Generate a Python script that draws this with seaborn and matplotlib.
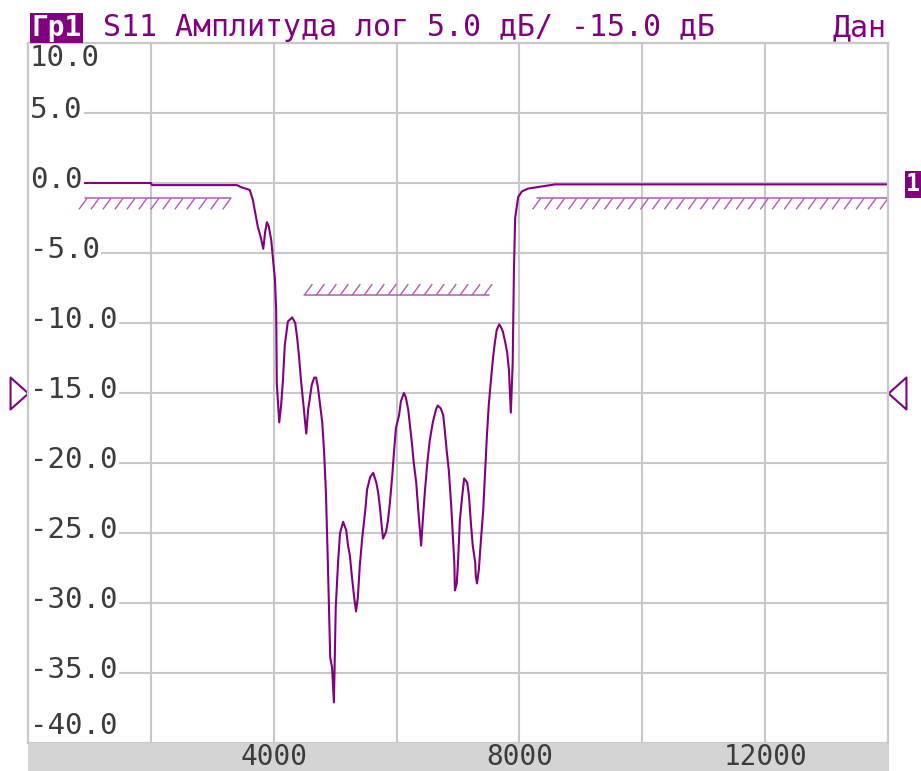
import numpy as np
import pandas as pd
import matplotlib
matplotlib.use("Agg")
import matplotlib.pyplot as plt
from matplotlib.path import Path
from matplotlib.collections import LineCollection
from matplotlib.patches import Rectangle
import matplotlib.transforms as mtransforms
import seaborn as sns

# ---------------- data ----------------
freq_mhz = [0, 2000, 2020, 3400, 3470, 3610, 3660, 3710, 3740, 3790, 3830, 3860, 3890, 3920,
            3960, 3990, 4020, 4040, 4050, 4090, 4120, 4150, 4180, 4230, 4300, 4350, 4380, 4410,
            4440, 4480, 4510, 4530, 4560, 4590, 4620, 4660, 4690, 4720, 4750, 4790, 4820, 4850,
            4880, 4920, 4950, 4980, 5010, 5050, 5080, 5130, 5180, 5210, 5240, 5270, 5310, 5340,
            5370, 5400, 5440, 5490, 5520, 5570, 5620, 5670, 5700, 5730, 5760, 5780, 5830, 5860,
            5890, 5930, 5960, 5990, 6040, 6070, 6120, 6150, 6190, 6220, 6250, 6280, 6320, 6350,
            6380, 6400, 6430, 6460, 6500, 6540, 6590, 6640, 6670, 6720, 6760, 6790, 6820, 6850,
            6890, 6920, 6940, 6950, 6980, 7000, 7030, 7070, 7100, 7150, 7180, 7210, 7240, 7280,
            7290, 7310, 7340, 7370, 7410, 7440, 7470, 7500, 7540, 7570, 7600, 7630, 7670, 7700,
            7730, 7770, 7800, 7830, 7850, 7860, 7890, 7910, 7930, 7980, 8040, 8140, 8290, 8580,
            14000]
s11_db = [0.0, 0.0, -0.15, -0.15, -0.3, -0.5, -1.2, -2.4, -3.1, -3.9, -4.7, -3.5, -2.8, -3.1,
          -4.1, -5.5, -6.9, -9.1, -14.3, -17.1, -15.9, -14.1, -11.6, -9.9, -9.6, -10.0, -11.0, -12.3,
          -13.9, -15.7, -17.1, -17.9, -16.2, -15.3, -14.4, -13.9, -13.9, -14.6, -15.7, -17.1, -19.2, -22.1,
          -26.9, -33.9, -34.6, -37.1, -30.3, -26.9, -25.0, -24.2, -24.8, -25.9, -26.6, -28.0, -29.6, -30.6,
          -29.6, -27.4, -25.4, -23.4, -21.9, -21.0, -20.7, -21.4, -22.1, -23.2, -24.6, -25.4, -24.9, -24.1,
          -22.9, -20.9, -19.1, -17.5, -16.6, -15.6, -15.0, -15.3, -16.2, -17.4, -18.6, -20.0, -21.4, -23.2,
          -24.8, -25.9, -23.9, -22.1, -20.0, -18.4, -17.1, -16.2, -15.9, -16.1, -16.6, -17.9, -19.3, -20.5,
          -23.1, -25.5, -27.1, -29.1, -28.6, -27.1, -24.1, -22.3, -21.1, -21.4, -22.4, -24.3, -25.9, -27.1,
          -28.1, -28.6, -27.6, -25.7, -23.4, -20.7, -18.1, -15.9, -13.9, -12.5, -11.4, -10.5, -10.1, -10.3,
          -10.6, -11.4, -12.1, -13.4, -15.3, -16.4, -12.9, -6.4, -2.5, -1.0, -0.6, -0.4, -0.3, -0.1,
          -0.1]
assert len(freq_mhz) == len(s11_db)

x_ticks = [0, 2000, 4000, 6000, 8000, 10000, 12000, 14000]
x_tick_labels = ["", "", "4000", "", "8000", "", "12000", ""]
y_ticks = [10, 5, 0, -5, -10, -15, -20, -25, -30, -35, -40]
y_tick_labels = ["10.0", "5.0", "0.0", "-5.0", "-10.0", "-15.0", "-20.0", "-25.0",
                 "-30.0", "-35.0", "-40.0"]

lim_start = [930, 4500, 8290]
lim_end = [3300, 7500, 14000]
lim_level = [-1.1, -8.0, -1.1]
lim_kind = ["lower", "upper", "lower"]

header_tag = "Гр1"
header_text = "S11 Амплитуда лог 5.0 дБ/ -15.0 дБ"
header_right = "Дан"
ref_level = -15.0
marker_label = "1"
marker_level = -0.1

PURPLE = "#800080"
LIMIT = "#b45ab4"
GRID = "#c8c8c8"
TXT = "#3c3c3c"

# ---------------- style ----------------
sns.set_style("white")
plt.rcParams["font.family"] = ["DejaVu Sans Mono", "DejaVu Sans"]

W, H = 921, 771
fig = plt.figure(figsize=(W / 100, H / 100), dpi=100)
L, B, R, T = 28, 28, 888, 43  # pixel geometry of the grid area
ax = fig.add_axes([L / W, B / H, (R - L) / W, (H - T - B) / H])

# gray frequency band at the bottom
fig.add_artist(Rectangle((L / W, 0), (R - L + 1) / W, B / H, transform=fig.transFigure,
                         facecolor="#d4d4d4", edgecolor="none", zorder=0))

df = pd.DataFrame({"freq": freq_mhz, "db": s11_db})
sns.lineplot(data=df, x="freq", y="db", ax=ax, color=PURPLE, lw=1.5, sort=False,
             estimator=None, zorder=4)

ax.set_xlim(0, 14000)
ax.set_ylim(-40, 10)
ax.set_xticks(x_ticks)
ax.set_xticklabels(x_tick_labels, fontsize=20, color=TXT)
ax.set_yticks(y_ticks)
ax.set_yticklabels([])
ax.tick_params(axis="both", length=0)
ax.tick_params(axis="x", pad=0)
ax.set_xlabel("")
ax.set_ylabel("")
ax.grid(True, color=GRID, lw=1.5)
ax.set_axisbelow(True)
for side, sp in ax.spines.items():
    sp.set_color(GRID)
    sp.set_linewidth(1.6)
    sp.set_zorder(10)
ax.spines["bottom"].set_visible(False)

# limit lines with hatch marks
dx_h, dy_h, step_h = 130, 0.78, 195
segs = []
for s, e, lv, kind in zip(lim_start, lim_end, lim_level, lim_kind):
    ax.plot([s, e], [lv, lv], color=LIMIT, lw=1.1, zorder=3)
    if kind == "lower":
        tops = np.arange(e, s - 1, -step_h)
        for f in tops:
            segs.append([(f, lv), (f - dx_h, lv - dy_h)])
    else:
        bots = np.arange(s, e + 1, step_h)
        for f in bots:
            segs.append([(f, lv), (f + dx_h, lv + dy_h)])
ax.add_collection(LineCollection(segs, colors=LIMIT, linewidths=1.0, zorder=3))

# y labels inside the grid, white backed
bb = dict(boxstyle="square,pad=0.05", facecolor="white", edgecolor="none")
for v, lbl in zip(y_ticks, y_tick_labels):
    if v == y_ticks[0]:
        va, off = "top", -1
    elif v == y_ticks[-1]:
        va, off = "bottom", 3
    else:
        va, off = "center", 3
    ax.annotate(lbl, xy=(0, v), xycoords=("axes fraction", "data"), xytext=(2, off),
                textcoords="offset pixels", ha="left", va=va, fontsize=21, color=TXT,
                bbox=bb, zorder=6, annotation_clip=False)

# reference level triangles
tri_r = Path([(-0.28, 0.5), (0.28, 0.0), (-0.28, -0.5), (-0.28, 0.5)],
             [Path.MOVETO, Path.LINETO, Path.LINETO, Path.CLOSEPOLY])
tri_l = Path([(0.28, 0.5), (-0.28, 0.0), (0.28, -0.5), (0.28, 0.5)],
             [Path.MOVETO, Path.LINETO, Path.LINETO, Path.CLOSEPOLY])
btf = mtransforms.blended_transform_factory(ax.transAxes, ax.transData)
ax.plot([(19 - L) / (R - L)], [ref_level], marker=tri_r, ms=23, mfc="none", mec=PURPLE,
        mew=1.5, transform=btf, clip_on=False, ls="none")
ax.plot([(897 - L) / (R - L)], [ref_level], marker=tri_l, ms=23, mfc="none", mec=PURPLE,
        mew=1.5, transform=btf, clip_on=False, ls="none")

# trace marker box at right edge
ax.text((906 - L) / (R - L), marker_level, marker_label, transform=btf, ha="left",
        va="center", fontsize=17, color="white", fontweight="bold", clip_on=False,
        bbox=dict(boxstyle="square,pad=0.06", facecolor=PURPLE, edgecolor="none"))

# header
base_y = (H - 36) / H
fig.text(31 / W, base_y, header_tag, ha="left", va="baseline", fontsize=20, color="white",
         fontweight="bold",
         bbox=dict(boxstyle="square,pad=0.05", facecolor=PURPLE, edgecolor="none"))
fig.text(103 / W, base_y, header_text, ha="left", va="baseline", fontsize=21.5, color=PURPLE)
fig.text(886 / W, base_y, header_right, ha="right", va="baseline", fontsize=21.5, color=PURPLE)

fig.savefig("out.png", dpi=100, facecolor="white")
